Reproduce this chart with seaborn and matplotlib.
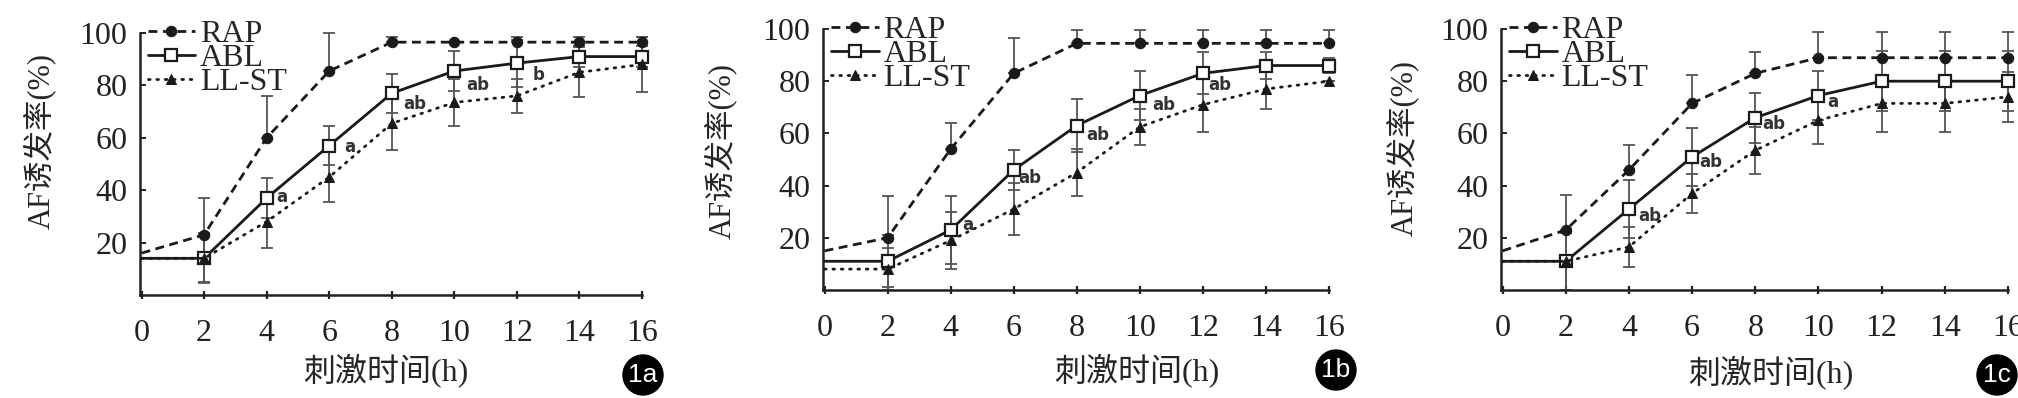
import numpy as np
import pandas as pd

import matplotlib
matplotlib.use("Agg")
import matplotlib.pyplot as plt
import seaborn as sns
from matplotlib.patches import Ellipse

# -----------------------------
# DATA
# -----------------------------
hours = [0, 2, 4, 6, 8, 10, 12, 14, 16]
groups = ["RAP", "ABL", "LL-ST"]
panel_tags = ["1a", "1b", "1c"]

# panel 1a
rap_a = [16, 23, 60, 85.5, 96.5, 96.5, 96.5, 96.5, 96.5]
rap_a_err = [0, 14, 16, 14.5, 2, 0, 2, 2, 2]
abl_a = [14, 14, 37, 57, 77, 85.5, 88.5, 91, 91]
abl_a_err = [0, 9, 7.5, 7.5, 7.5, 7.5, 9, 4, 4]
llst_a = [14, 14, 28, 45, 65.5, 73.5, 76, 85, 88]
llst_a_err = [0, 9.5, 10, 9.5, 10, 9, 6.5, 9.5, 10.5]

# panel 1b
rap_b = [15, 20, 54, 83, 94.5, 94.5, 94.5, 94.5, 94.5]
rap_b_err = [0, 16, 10, 13.5, 5, 5, 5, 5, 5]
abl_b = [11, 11, 23, 46, 63, 74.5, 83, 86, 86]
abl_b_err = [0, 10, 13, 7.5, 10, 9.5, 8, 5, 3]
llst_b = [8, 8, 19, 31, 45, 62.5, 71, 77, 80]
llst_b_err = [0, 8, 11, 10, 9, 7, 10.5, 7.5, 0]

# panel 1c
rap_c = [15, 23, 46, 71.5, 83, 89, 89, 89, 89]
rap_c_err = [0, 13.5, 9.5, 11, 8, 10, 10, 10, 10]
abl_c = [11, 11, 31, 51, 66, 74.5, 80, 80, 80]
abl_c_err = [0, 11, 11, 11, 9.5, 9.5, 11.5, 11.5, 11.5]
llst_c = [11, 11, 16.5, 37, 53.5, 65, 71.5, 71.5, 74]
llst_c_err = [0, 11, 7.5, 7.5, 9, 9, 11, 11, 9.5]

# significance letters
ann_a_x = [4.5, 6.65, 8.75, 10.75, 12.7]
ann_a_y = [37.5, 56.5, 73, 80, 84]
ann_a_txt = ["a", "a", "ab", "ab", "b"]
ann_b_x = [4.55, 6.5, 8.65, 10.75, 12.55]
ann_b_y = [25, 43, 59.5, 71, 78.5]
ann_b_txt = ["a", "ab", "ab", "ab", "ab"]
ann_c_x = [4.65, 6.6, 8.6, 10.45]
ann_c_y = [28.5, 49, 63.5, 72]
ann_c_txt = ["ab", "ab", "ab", "a"]

panels = [
    dict(vals=[rap_a, abl_a, llst_a], errs=[rap_a_err, abl_a_err, llst_a_err],
         ann=(ann_a_x, ann_a_y, ann_a_txt)),
    dict(vals=[rap_b, abl_b, llst_b], errs=[rap_b_err, abl_b_err, llst_b_err],
         ann=(ann_b_x, ann_b_y, ann_b_txt)),
    dict(vals=[rap_c, abl_c, llst_c], errs=[rap_c_err, abl_c_err, llst_c_err],
         ann=(ann_c_x, ann_c_y, ann_c_txt)),
]

# -----------------------------
# STYLE
# -----------------------------
sns.set_style("ticks")
plt.rcParams["font.family"] = ["Liberation Serif", "Noto Sans CJK SC"]

W, H = 2018, 398
# axes boxes in pixels: left, right, top, bottom
boxes = [(140, 642, 33, 295), (823, 1329, 29, 290), (1501, 2008, 29, 290)]
xlab_pos = [(0.49, -0.286), (0.62, -0.307), (0.533, -0.314)]
ylab_pos = [(-0.201, 0.588), (-0.2016, 0.533), (-0.195, 0.544)]
badges = [(643, 375), (1336, 370), (1997, 375)]

ink = "#1a1a1a"
err_col = "#555555"
line_kw = {
    "RAP": dict(linestyle=(0, (3.2, 2.0)), marker="o", markersize=7.5,
                markerfacecolor=ink, markeredgecolor=ink),
    "ABL": dict(linestyle="-", marker="s", markersize=9,
                markerfacecolor="white", markeredgecolor=ink, markeredgewidth=1.6),
    "LL-ST": dict(linestyle=(0, (0.6, 2.4)), marker="^", markersize=7.5,
                  markerfacecolor=ink, markeredgecolor=ink, dash_capstyle="round"),
}

fig = plt.figure(figsize=(W / 100, H / 100), dpi=100)

for i, p in enumerate(panels):
    l, r, t, b = boxes[i]
    ax = fig.add_axes([l / W, 1 - b / H, (r - l) / W, (b - t) / H])

    for g, vals, errs in zip(groups, p["vals"], p["errs"]):
        df = pd.DataFrame({"hour": hours, "rate": vals})
        # error bars (RAP shows only the upper half)
        err = np.array(errs)
        lower = np.zeros_like(err) if g == "RAP" else err
        eb = ax.errorbar(hours[1:], vals[1:], yerr=[lower[1:], err[1:]], fmt="none",
                         ecolor=err_col, elinewidth=1.3, capsize=4.5, capthick=1.3,
                         zorder=1)
        for art in eb.get_children():
            art.set_clip_on(False)
        sns.lineplot(data=df, x="hour", y="rate", ax=ax, color=ink, linewidth=2.0,
                     markevery=slice(1, None), clip_on=False, label=g, zorder=3,
                     **line_kw[g])

    for x, y, s in zip(*p["ann"]):
        ax.text(x, y, s, ha="center", va="center", fontsize=12, fontweight="bold",
                family="DejaVu Sans", color="#333333", zorder=4)

    ax.set_xlim(-0.05, 16)
    ax.set_ylim(0, 100)
    ax.set_xticks(hours)
    ax.set_yticks([20, 40, 60, 80, 100])
    sns.despine(ax=ax)
    for s in ["left", "bottom"]:
        ax.spines[s].set_linewidth(1.8)
        ax.spines[s].set_color("#222222")
    ax.tick_params(axis="x", direction="inout", length=6, width=1.6, pad=14,
                   labelsize=23, colors="#222222")
    ax.tick_params(axis="y", direction="in", length=4, width=1.4, pad=9,
                   labelsize=23, colors="#222222")

    ax.set_xlabel("刺激时间(h)", fontsize=23, va="center")
    ax.xaxis.set_label_coords(*xlab_pos[i])
    ax.set_ylabel("AF诱发率(%)", fontsize=22, va="center")
    ax.yaxis.set_label_coords(*ylab_pos[i])

    ax.legend(loc="upper left", bbox_to_anchor=(0.015, 1.05), frameon=False,
              fontsize=23, labelspacing=-0.17, handlelength=1.5, handletextpad=0.15,
              borderpad=0, borderaxespad=0)

    # panel badge
    cx, cy = badges[i]
    fig.patches.append(Ellipse((cx / W, 1 - cy / H), 40 / W, 40 / H,
                               transform=fig.transFigure, color="black", zorder=5))
    fig.text(cx / W, 1 - cy / H, panel_tags[i], ha="center", va="center",
             color="white", fontsize=19, family="Liberation Sans", zorder=6)

fig.savefig("out.png", dpi=100)
